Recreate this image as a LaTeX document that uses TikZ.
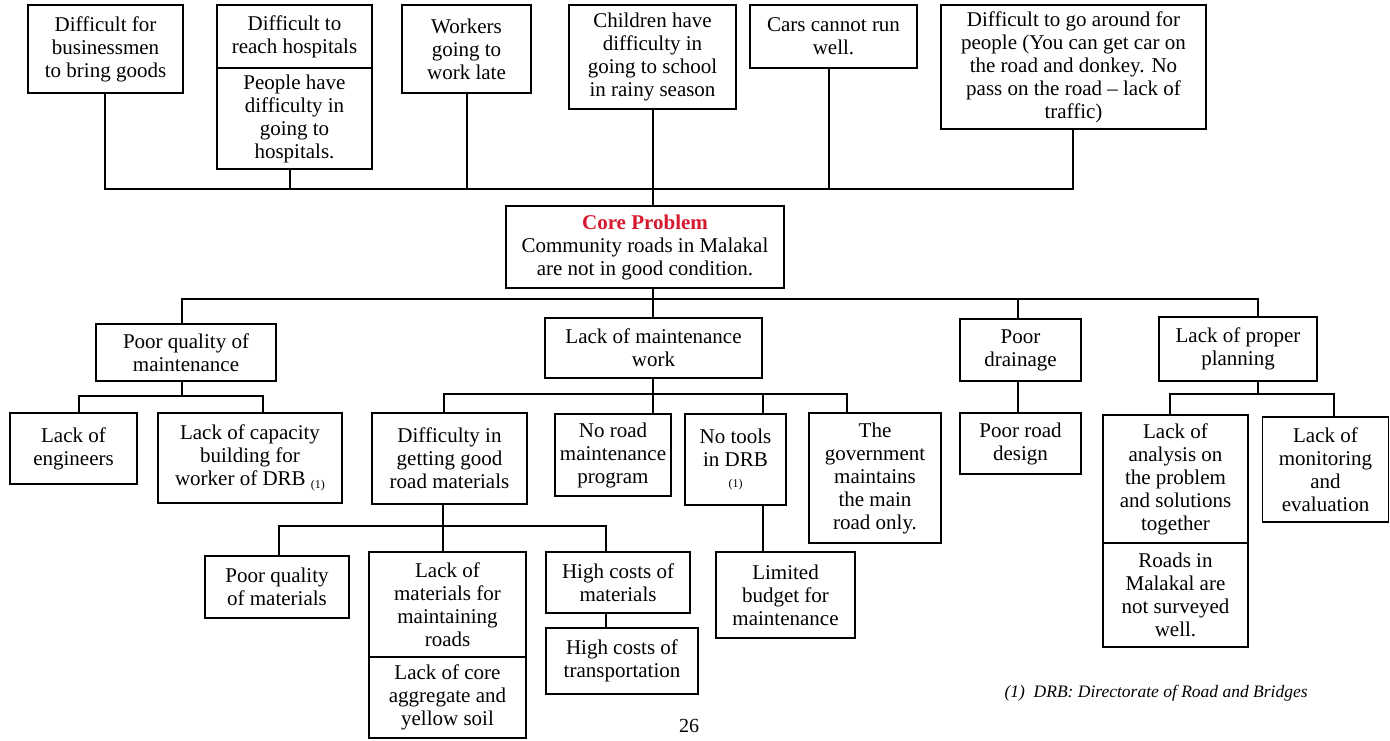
\documentclass[tikz,border=0pt]{standalone}
\usepackage{fontspec}
\setmainfont{Liberation Serif}
\definecolor{corered}{RGB}{214,24,48}
\begin{document}
\begin{tikzpicture}[x=1pt,y=-1pt,
  box/.style={draw, line width=1.1pt, align=center, inner sep=0pt,
    font=\fontsize{21}{23}\selectfont},
  link/.style={line width=1.1pt}]
\useasboundingbox (0,0) rectangle (1390,740);

% ---- effects ----
\node[box, minimum width=155, minimum height=88] (b1) at (105.5,49)
  {Difficult for\\businessmen\\to bring goods};
\node[box, minimum width=155, minimum height=63] (b2a) at (294.5,36.5)
  {Difficult to\\reach hospitals};
\node[box, minimum width=155, minimum height=101] (b2b) at (294.5,118.5)
  {People have\\difficulty in\\going to\\hospitals.};
\node[box, minimum width=129, minimum height=88] (b3) at (466.5,49)
  {Workers\\going to\\work late};
\node[box, minimum width=167, minimum height=104] (b4) at (652.5,57)
  {Children have\\difficulty in\\going to school\\in rainy season};
\node[box, minimum width=167, minimum height=63] (b5) at (833.5,36.5)
  {Cars cannot run\\well.};
\node[box, minimum width=265, minimum height=124] (b6) at (1073.5,67)
  {Difficult to go around for\\people (You can get car on\\the road and donkey. No\\pass on the road -- lack of\\traffic)};

% ---- core problem ----
\node[box, minimum width=278, minimum height=82] (core) at (645,247)
  {{\color{corered}\bfseries Core Problem}\\Community roads in Malakal\\are not in good condition.};

% ---- first level causes ----
\node[box, minimum width=180, minimum height=57] (pqm) at (186,352.5)
  {Poor quality of\\maintenance};
\node[box, minimum width=217, minimum height=60] (lmw) at (653.5,348)
  {Lack of maintenance\\work};
\node[box, minimum width=121, minimum height=62] (pd) at (1020.5,350)
  {Poor\\drainage};
\node[box, minimum width=158, minimum height=64] (lpp) at (1238,349)
  {Lack of proper\\planning};

% ---- second level causes ----
\node[box, minimum width=127, minimum height=71] (le) at (73.5,448.5)
  {Lack of\\engineers};
\node[box, minimum width=184, minimum height=90] (lcb) at (250,458)
  {Lack of capacity\\building for\\worker of DRB \raisebox{-3pt}{\fontsize{12}{12}\selectfont(1)}};
\node[box, minimum width=155, minimum height=91] (dgm) at (449.5,458.5)
  {Difficulty in\\getting good\\road materials};
\node[box, minimum width=116, minimum height=82] (nrmp) at (613,455)
  {No road\\maintenance\\program};
\node[box, minimum width=101, minimum height=91] (ntd) at (735.5,459.5)
  {No tools\\in DRB\\[-2pt]{\fontsize{12}{14}\selectfont(1)}};
\node[box, minimum width=132, minimum height=130] (gov) at (875,478)
  {The\\government\\maintains\\the main\\road only.};
\node[box, minimum width=121, minimum height=61] (prd) at (1020.5,443.5)
  {Poor road\\design};
\node[box, minimum width=145, minimum height=128] (la) at (1175.5,479)
  {Lack of\\analysis on\\the problem\\and solutions\\together};
\node[box, minimum width=145, minimum height=104] (rs) at (1175.5,595)
  {Roads in\\Malakal are\\not surveyed\\well.};
\node[box, minimum width=126, minimum height=105] (lme) at (1325.5,469.5)
  {Lack of\\monitoring\\and\\evaluation};

% ---- third level causes ----
\node[box, minimum width=144, minimum height=62] (pqmat) at (277,587)
  {Poor quality\\of materials};
\node[box, minimum width=157, minimum height=105] (lm) at (447.5,604.5)
  {Lack of\\materials for\\maintaining\\roads};
\node[box, minimum width=157, minimum height=81] (lca) at (447.5,697.5)
  {Lack of core\\aggregate and\\yellow soil};
\node[box, minimum width=144, minimum height=61] (hcm) at (618,582.5)
  {High costs of\\materials};
\node[box, minimum width=152, minimum height=66] (hct) at (622,661)
  {High costs of\\transportation};
\node[box, minimum width=139, minimum height=86] (lb) at (785.5,595)
  {Limited\\budget for\\maintenance};

% ---- page number and footnote ----
\node[font=\fontsize{20}{23}\selectfont] (pg) at (689,726) {26};
\node[font=\fontsize{17.5}{20}\selectfont\itshape, anchor=west] (fn) at (1001,693)
  {(1)\ \ DRB: Directorate of Road and Bridges};

% ---- bus lines ----
\coordinate (topL) at (105,189);
\coordinate (topR) at (1073,189);
\coordinate (midL) at (182,299);
\coordinate (midR) at (1258,299);
\coordinate (spine) at (653,299);
\coordinate (pqmL) at (79,396);
\coordinate (pqmR) at (263,396);
\coordinate (lmwL) at (444,394);
\coordinate (lmwR) at (847,394);
\coordinate (lppL) at (1170,394);
\coordinate (lppR) at (1334,394);
\coordinate (dgmL) at (279,526);
\coordinate (dgmR) at (606,526);
\coordinate (dgmM) at (443,526);

% effects joined to the core problem
\draw[link] (b1.south -| topL) -- (topL) -- (topR) -- (b6.south -| topR);
\draw[link] (b2b.south -| 290,0) -- (290,189);
\draw[link] (b3.south -| 467,0) -- (467,189);
\draw[link] (b5.south -| 829,0) -- (829,189);
\draw[link] (b4.south -| spine) -- (core.north -| spine);

% core problem to first level
\draw[link] (core.south -| spine) -- (spine);
\draw[link] (pqm.north -| midL) -- (midL) -- (midR) -- (lpp.north -| midR);
\draw[link] (lmw.north -| spine) -- (spine);
\draw[link] (pd.north -| 1018,0) -- (1018,299);

% poor quality of maintenance
\draw[link] (pqm.south -| midL) -- (midL |- pqmL);
\draw[link] (le.north -| pqmL) -- (pqmL) -- (pqmR) -- (lcb.north -| pqmR);

% lack of maintenance work
\draw[link] (lmw.south -| spine) -- (nrmp.north -| spine);
\draw[link] (dgm.north -| lmwL) -- (lmwL) -- (lmwR) -- (gov.north -| lmwR);
\draw[link] (ntd.north -| 763,0) -- (763,394);
\draw[link] (ntd.south -| 763,0) -- (lb.north -| 763,0);

% poor drainage
\draw[link] (pd.south -| 1018,0) -- (prd.north -| 1018,0);

% lack of proper planning
\draw[link] (lpp.south -| midR) -- (midR |- lppL);
\draw[link] (la.north -| lppL) -- (lppL) -- (lppR) -- (lme.north -| lppR);

% difficulty in getting good road materials
\draw[link] (dgm.south -| dgmM) -- (dgmM);
\draw[link] (pqmat.north -| dgmL) -- (dgmL) -- (dgmR) -- (hcm.north -| dgmR);
\draw[link] (lm.north -| dgmM) -- (dgmM);
\draw[link] (hcm.south -| dgmR) -- (hct.north -| dgmR);
\end{tikzpicture}
\end{document}
